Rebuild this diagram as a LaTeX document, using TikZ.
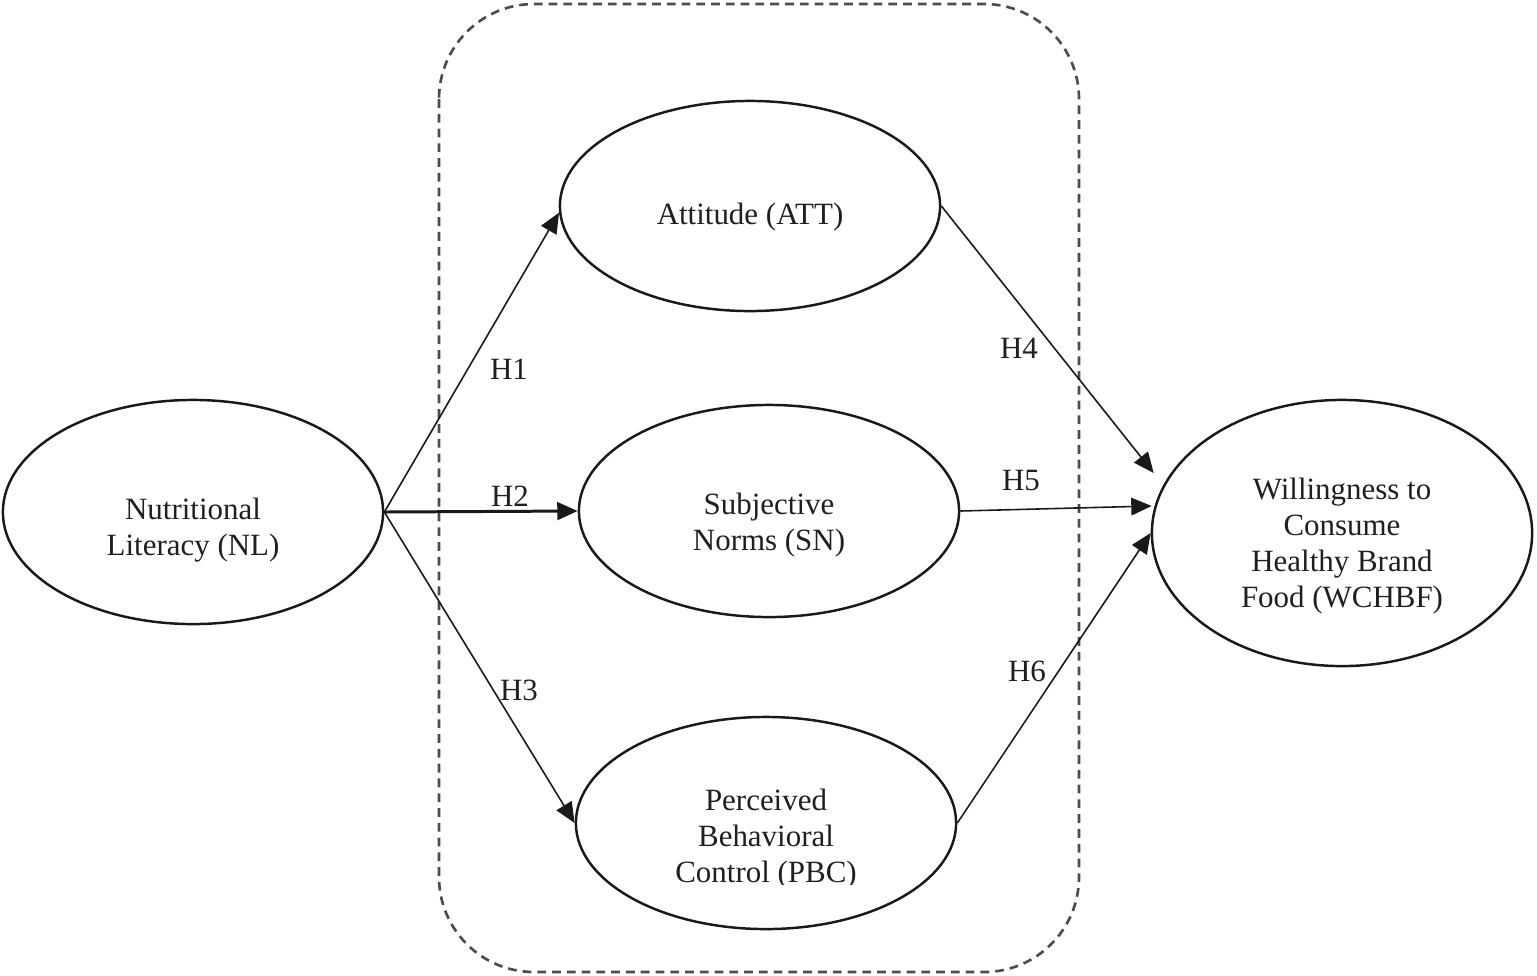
\documentclass[tikz,border=0pt]{standalone}
\usepackage{fontspec}
\setmainfont{Liberation Serif}
\usetikzlibrary{arrows.meta,calc,shapes.geometric}
\begin{document}
\begin{tikzpicture}[x=0.01cm,y=-0.01cm,
  ell/.style={draw=black!90,line width=0.7pt,ellipse,inner sep=0pt,minimum width=3.8cm},
  lbl/.style={align=center,font=\fontsize{8.8}{10.3}\selectfont,text=black!88,inner sep=0pt},
  hyp/.style={font=\fontsize{8.8}{10.3}\selectfont,text=black!88,inner sep=0pt},
  arr/.style={-{Triangle[length=5.8pt,width=5pt]},line width=0.45pt,draw=black!90},
  group/.style={draw=black!70,line width=0.75pt,dash pattern=on 2.5pt off 1.7pt,rounded corners=0.95cm}]
\useasboundingbox (0,0) rectangle (1537,975);
% grouping box
\draw[group] (439,4) rectangle (1079,972);
% ellipses
\node[ell,minimum height=2.24cm] (nl) at (193,512) {};
\node[ell,minimum height=2.10cm] (att) at (750,206) {};
\node[ell,minimum height=2.12cm] (sn) at (769,511) {};
\node[ell,minimum height=2.12cm] (pbc) at (766,823) {};
\node[ell,minimum height=2.66cm] (wchbf) at (1342,533) {};
% texts
\node[lbl] (nlT) at (193,530) {Nutritional\\Literacy (NL)};
\node[lbl] (attT) at (750,217) {Attitude (ATT)};
\node[lbl] (snT) at (769,525) {Subjective\\Norms (SN)};
\begin{scope}
\clip (0,0) rectangle (1537,884);
\node[lbl] (pbcT) at (766,839) {Perceived\\Behavioral\\Control (PBC)};
\end{scope}
\node[lbl] (wchbfT) at (1342,546) {Willingness to\\Consume\\Healthy Brand\\Food (WCHBF)};
% arrows
\draw[arr] (nl.east) -- (att.182);
\draw[arr,line width=0.85pt] (nl.east) -- (sn.west);
\draw[arr] (nl.east) -- (pbc.west);
\draw[arr] (att.east) -- ($(wchbf.west)+(3,-60)$);
\draw[arr] (sn.east) -- ($(wchbf.west)+(1,-27)$);
\draw[arr] (pbc.east) -- (wchbf.west);
% hypothesis labels
\node[hyp] (h1) at (509,369) {H1};
\node[hyp] (h2) at (510,496) {H2};
\node[hyp] (h3) at (519,690) {H3};
\node[hyp] (h4) at (1019,348) {H4};
\node[hyp] (h5) at (1021,481) {H5};
\node[hyp] (h6) at (1027,671) {H6};
\end{tikzpicture}
\end{document}
